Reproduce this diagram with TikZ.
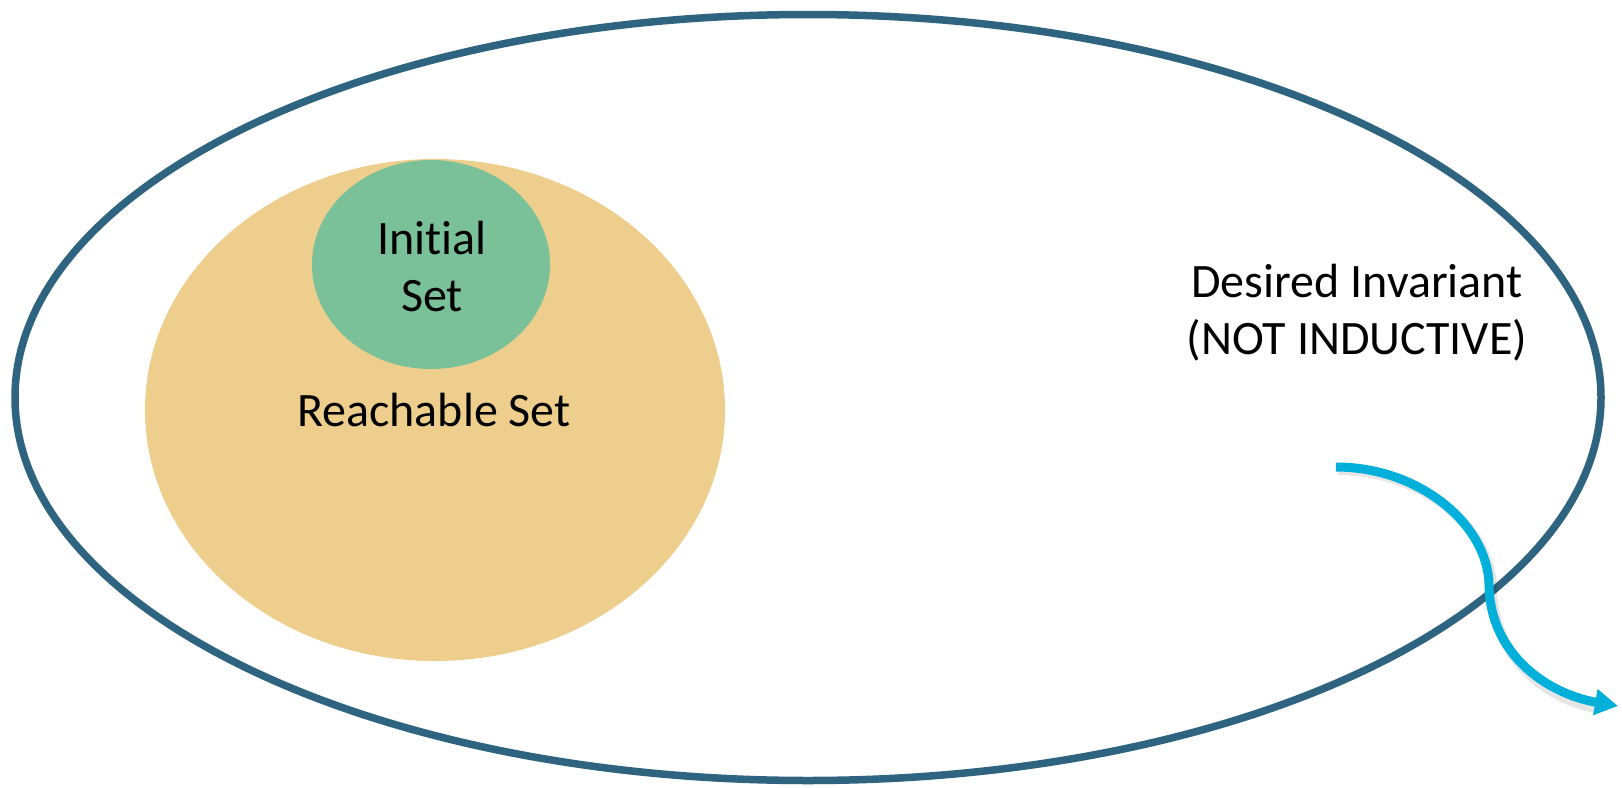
\documentclass[tikz,border=0pt]{standalone}
\usepackage{fontspec}
\setmainfont{Carlito}[Ligatures={NoCommon}]
\usetikzlibrary{shapes.geometric,arrows.meta}
\definecolor{invline}{HTML}{2E6480}
\definecolor{reachfill}{HTML}{EECE8C}
\definecolor{initfill}{HTML}{7AC19A}
\definecolor{flowcol}{HTML}{00B0DA}
\begin{document}
\begin{tikzpicture}[x=1pt,y=-1pt,
  region/.style={ellipse, inner sep=0pt, outer sep=0pt},
  lbl/.style={font=\fontsize{48}{57}\selectfont, align=center, inner sep=0pt},
  flow/.style={draw=flowcol, line width=9pt, -{Triangle[length=23pt,width=25pt]}},
  flowshadow/.style={draw=black, opacity=0.1, line width=10pt}]
\useasboundingbox (0,0) rectangle (1622,787);

% sets
\node[region, draw=invline, line width=7.5pt, minimum width=1586pt, minimum height=766pt] (inv) at (808,397.5) {};
\node[region, fill=reachfill, minimum width=580pt, minimum height=502pt] (reach) at (435,410) {};
\node[region, fill=initfill, minimum width=238pt, minimum height=209pt] (init) at (431,264.5) {};

% labels (anchored on the baseline of their last line)
\node[lbl, anchor=base] (initlbl) at (432,311) {Initial\\Set};
\node[lbl, anchor=base] (reachlbl) at (434,426) {Reachable Set};
\node[lbl, anchor=base] (invlbl) at (1357,354) {Desired Invariant\\(NOT INDUCTIVE)};

% transition leaving the invariant
\coordinate (src) at (1336,467);
\coordinate (bend) at (1489,585);
\coordinate (dst) at (1618,706);
\draw[flowshadow] ([shift={(2,3)}]src) .. controls (1422,470) and (1491,528) .. (1492,588)
  .. controls (1493,658) and (1548,700) .. (1596,708);
\draw[flow] (src) .. controls (1420,467) and (1488,525) .. (bend)
  .. controls (1490,655) and (1548,694) .. (dst);
\end{tikzpicture}
\end{document}
